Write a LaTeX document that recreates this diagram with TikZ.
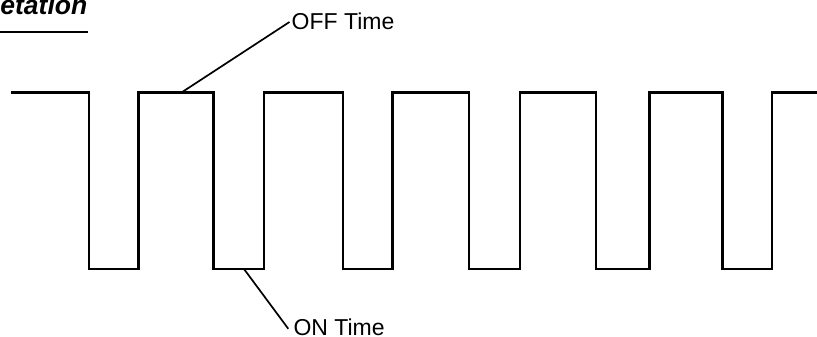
\documentclass[tikz,border=0pt]{standalone}
\usepackage{fontspec}
\setmainfont{Liberation Sans}
\begin{document}
\begin{tikzpicture}[x=1pt,y=-1pt,
  wave/.style={line width=2.8pt,line join=miter,line cap=butt},
  leader/.style={line width=1.7pt},
  lbl/.style={inner sep=0pt,font=\fontsize{23}{25}\selectfont},
  ttl/.style={inner sep=0pt,font=\fontsize{26.5}{28}\selectfont\bfseries\itshape}]
\useasboundingbox (0,0) rectangle (817,337);
% section heading (partly cut by the page edge) and its rule
\node[ttl,anchor=base east] (title) at (87.5,14.5) {etation};
\draw[line width=1.6pt] (0,32.3) -- (88,32.3);
% pulse train
\def\hi{92.5}\def\lo{269}
\draw[wave] (11,\hi)
  -- (89,\hi) -- (89,\lo) -- (138.5,\lo) -- (138.5,\hi)
  -- (213.5,\hi) -- (213.5,\lo) -- (264,\lo) -- (264,\hi)
  -- (343,\hi) -- (343,\lo) -- (392.3,\lo) -- (392.3,\hi)
  -- (469,\hi) -- (469,\lo) -- (520,\lo) -- (520,\hi)
  -- (596,\hi) -- (596,\lo) -- (649.3,\lo) -- (649.3,\hi)
  -- (722.3,\hi) -- (722.3,\lo) -- (772,\lo) -- (772,\hi)
  -- (817,\hi);
\coordinate (offpt) at (181.5,\hi);
\coordinate (onpt) at (244,\lo);
% labels with leader lines
\node[lbl,anchor=base west] (off) at (291.5,29.2) {OFF Time};
\node[lbl,anchor=base west] (on) at (293.3,335) {ON Time};
\draw[leader] (offpt) -- ([xshift=-2pt,yshift=-1pt]off.west);
\draw[leader] (onpt) -- ([xshift=-5pt,yshift=-2pt]on.west);
\end{tikzpicture}
\end{document}
